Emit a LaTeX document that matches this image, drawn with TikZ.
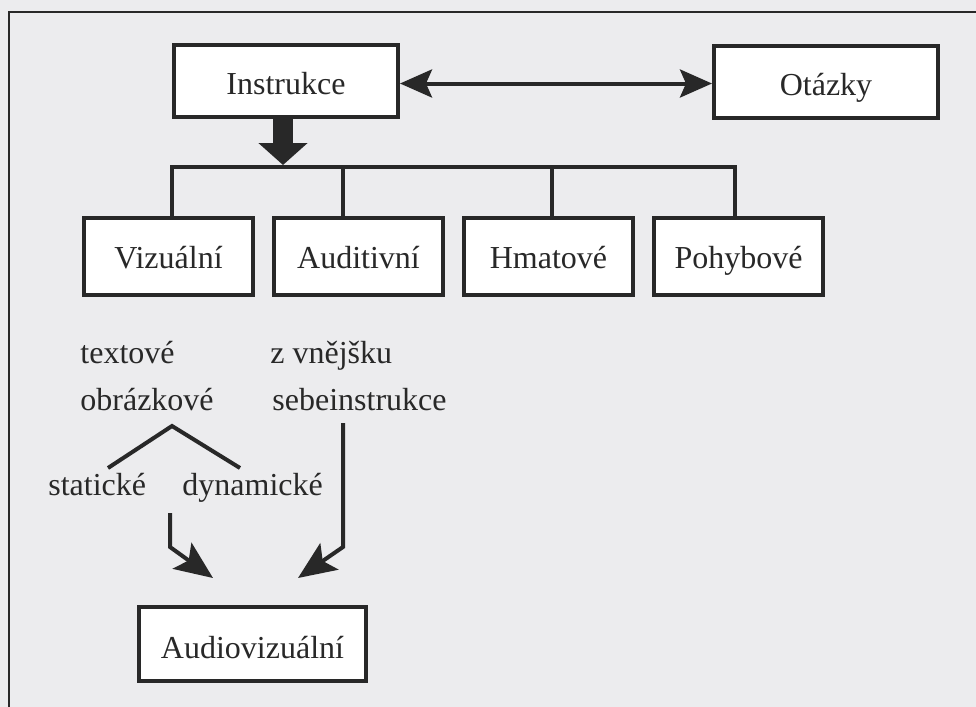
\documentclass[tikz,border=0pt]{standalone}
\usepackage{fontspec}
\setmainfont{Liberation Serif}
\usetikzlibrary{positioning,arrows.meta}
\definecolor{PaperGray}{RGB}{236,236,238}
\definecolor{InkGray}{RGB}{40,40,40}

\begin{document}
\begin{tikzpicture}[
x=0.5pt,y=-0.5pt,
node distance=8.5pt,
font=\fontsize{16}{19}\selectfont,
box/.style={
rectangle,draw=InkGray,line width=2pt,fill=white,text=InkGray,
minimum width=112pt,minimum height=36pt,align=center,
text height=15pt,text depth=1pt
},
kind/.style={box,minimum width=84.5pt,minimum height=38.5pt,text height=12.5pt},
term/.style={inner sep=0pt,anchor=base west,text=InkGray},
tree/.style={line width=2pt,draw=InkGray},
arrow/.style={-{Stealth[length=19pt,width=16pt,inset=4pt]},line width=2pt,draw=InkGray},
dblarrow/.style={{Stealth[length=16pt,width=14pt,inset=3pt]}-{Stealth[length=16pt,width=14pt,inset=3pt]},line width=2pt,draw=InkGray},
bigarrow/.style={-{Triangle[length=11pt,width=24pt]},line width=10pt,draw=InkGray}
]

% paper and frame
\fill[PaperGray] (0,0) rectangle (976,707);
\useasboundingbox (0,0) rectangle (976,707);
\draw[line width=1pt,InkGray] (9,707) -- (9,12) -- (976,12);

% top row
\node[box] (instr) at (286,80.5) {Instrukce};
\node[box] (otaz) at (826,81.5) {Otázky};
\draw[dblarrow] ([yshift=-1.5pt]instr.east) -- ([yshift=-1.5pt]instr.east -| otaz.west);

% kinds of instructions
\node[kind] (viz) at (168.5,256.5) {Vizuální};
\node[kind,right=of viz] (aud) {Auditivní};
\node[kind,right=of aud] (hmat) {Hmatové};
\node[kind,right=of hmat] (poh) {Pohybové};

\coordinate (bus) at (283,167);
\draw[bigarrow] ([xshift=-1.5pt]instr.south) -- ([xshift=-1.5pt]instr.south |- 0,165);
\draw[tree] ([xshift=1.75pt]viz.north) |- (bus) -| ([xshift=-1.75pt]poh.north);
\draw[tree] ([xshift=-8pt]aud.north) -- ([xshift=-8pt]aud.north |- bus);
\draw[tree] ([xshift=1.75pt]hmat.north) -- ([xshift=1.75pt]hmat.north |- bus);

% visual branch
\node[term] (text) at (80,363) {textové};
\node[term] (obr) at (80,410) {obrázkové};
\node[term] (stat) at (48,495) {statické};
\node[term] (dyn) at (182,495) {dynamické};
\coordinate (fork) at (172,426);
\coordinate (forkl) at (108,468);
\coordinate (forkr) at (240,468);
\draw[tree] (forkl) -- (fork) -- (forkr);

% auditory branch
\node[term] (vne) at (270,363) {z vnějšku};
\node[term] (sebe) at (272,410) {sebeinstrukce};

% audiovisual
\node[box,minimum width=113.5pt,minimum height=37pt] (av) at (252.5,644) {Audiovizuální};
\coordinate (mixin) at (170,513);
\coordinate (sebeout) at (343,423);
\draw[arrow] (mixin) -- ++(0,34) -- ++(43,31);
\draw[arrow] (sebeout) -- ++(0,124) -- ++(-45,31);

\end{tikzpicture}
\end{document}
